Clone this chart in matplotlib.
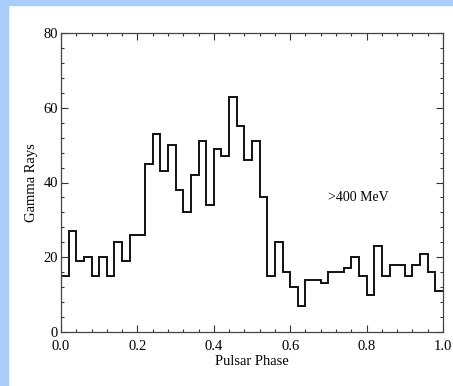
import numpy as np
import matplotlib
matplotlib.use('Agg')
import matplotlib.pyplot as plt
from matplotlib.patches import Rectangle
from matplotlib.ticker import MultipleLocator

# --- Data ---
phase_edges = np.linspace(0.0, 1.0, 51)
gamma_counts = [15, 27, 19, 20, 15, 20, 15, 24, 19, 26,
                26, 45, 53, 43, 50, 38, 32, 42, 51, 34,
                49, 47, 63, 55, 46, 51, 36, 15, 24, 16,
                12, 7, 14, 14, 13, 16, 16, 17, 20, 15,
                10, 23, 15, 18, 18, 15, 18, 21, 16, 11]
x_ticks = [0.0, 0.2, 0.4, 0.6, 0.8, 1.0]
y_ticks = [0, 20, 40, 60, 80]

plt.rcParams['font.family'] = ['Liberation Serif', 'DejaVu Serif']

fig = plt.figure(figsize=(4.53, 3.86), dpi=100)
# light blue frame on left and top
fig.patches.append(Rectangle((0, 0), 8 / 453, 1, transform=fig.transFigure,
                             color='#a9cdfb', zorder=-1))
fig.patches.append(Rectangle((0, 1 - 5 / 386), 1, 5 / 386, transform=fig.transFigure,
                             color='#a9cdfb', zorder=-1))

ax = fig.add_axes([61 / 453, 1 - 332 / 386, 382 / 453, 299 / 386])
ax.stairs(gamma_counts, phase_edges, baseline=None, color='#111111', linewidth=1.4)

ax.set_xlim(0, 1)
ax.set_ylim(0, 80)
ax.set_xticks(x_ticks)
ax.set_xticklabels([f'{t:.1f}' for t in x_ticks])
ax.set_yticks(y_ticks)
ax.xaxis.set_minor_locator(MultipleLocator(0.04))
ax.yaxis.set_minor_locator(MultipleLocator(4))
ax.tick_params(which='both', direction='in', top=True, right=True,
               color='#333333', width=0.8, labelsize=10.5)
ax.tick_params(which='major', length=5)
ax.tick_params(which='minor', length=2.5)
ax.tick_params(axis='x', pad=6)
ax.tick_params(axis='y', pad=2)
for s in ax.spines.values():
    s.set_color('#444444')
    s.set_linewidth(0.9)

ax.set_xlabel('Pulsar Phase', fontsize=10.5, labelpad=1)
ax.set_ylabel('Gamma Rays', fontsize=10.5, labelpad=4)
ax.text(0.70, 36, '>400 MeV', fontsize=10, va='center', ha='left')

fig.savefig('out.png', dpi=100, facecolor='white')
